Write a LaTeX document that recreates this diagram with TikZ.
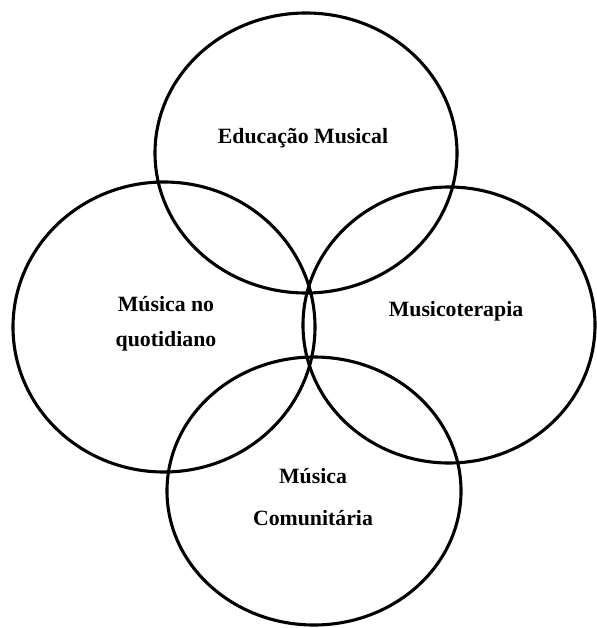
\documentclass[tikz,border=0pt]{standalone}
\usepackage{fontspec}
\setmainfont{Liberation Serif}
\begin{document}
\begin{tikzpicture}[x=1pt,y=-1pt,
  ring/.style={draw=black,line width=3.1pt},
  lbl/.style={font=\bfseries\fontsize{21.8}{35}\selectfont,align=center,inner sep=0pt}]
\useasboundingbox (0,0) rectangle (596,628);
\draw[ring] (306,153) ellipse [x radius=151,y radius=140];
\draw[ring] (164,327) ellipse [x radius=151,y radius=145];
\draw[ring] (449,325) ellipse [x radius=146,y radius=138];
\draw[ring] (314,491) ellipse [x radius=147,y radius=134];
\node[lbl] (edu) at (303,138) {Educação Musical};
\node[lbl] (quot) at (166,324) {Música no\\quotidiano};
\node[lbl] (mt) at (456,311) {Musicoterapia};
\node[lbl,font=\bfseries\fontsize{21.8}{42}\selectfont] (com) at (313,497) {Música\\Comunitária};
\end{tikzpicture}
\end{document}
